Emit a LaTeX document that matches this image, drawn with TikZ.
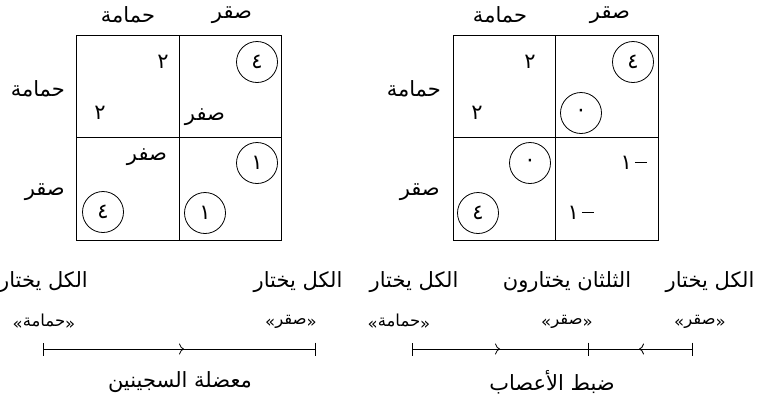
\documentclass[tikz,border=0pt]{standalone}
\usepackage{fontspec}
\usetikzlibrary{arrows.meta}
\TeXXeTstate=1
\newfontfamily\arabicfont[Script=Arabic]{DejaVu Sans}
\newcommand{\artxt}[1]{{\arabicfont\beginR #1\endR}}
\newcommand{\quoted}[1]{{\arabicfont\raisebox{-3pt}{»}\beginR #1\endR\raisebox{-3pt}{«}}}
\newcommand{\negone}{{\arabicfont\mbox{١}\kern3pt\rule[0.3em]{0.6em}{1pt}}}

\begin{document}
\begin{tikzpicture}[x=1pt,y=-1pt,
  lbl/.style={font=\fontsize{21}{24}\selectfont,inner sep=1pt},
  small/.style={font=\fontsize{16.5}{19}\selectfont,inner sep=1pt},
  cell/.style={draw,line width=0.8pt,minimum size=102.5pt,inner sep=0pt},
  ring/.style={lbl,circle,draw,line width=0.8pt,minimum size=41pt,inner sep=0pt},
  bar/.style={line width=0.8pt,{Bar[width=13pt]}-{Bar[width=13pt]}},
  push/.style={line width=0.8pt,-{To[length=5pt,width=11pt]}}]

\useasboundingbox (0,0) rectangle (759,405);

\node[cell] (pdHH) at (128,86.5) {};
\node[cell] (pdHS) at (230.5,86.5) {};
\node[cell] (pdSH) at (128,189) {};
\node[cell] (pdSS) at (230.5,189) {};

\node[lbl] (pdColH) at (128,15) {\artxt{حمامة}};
\node[lbl] (pdColS) at (232,15) {\artxt{صقر}};
\node[lbl,anchor=east] (pdRowH) at (66,89) {\artxt{حمامة}};
\node[lbl,anchor=east] (pdRowS) at (66,192) {\artxt{صقر}};

\node[lbl] (pdA1) at (163,62) {\artxt{٢}};
\node[lbl] (pdA2) at (100,113) {\artxt{٢}};
\node[ring] (pdB1) at (257,62) {\artxt{٤}};
\node[lbl] (pdB2) at (205,117) {\artxt{صفر}};
\node[lbl] (pdC1) at (147,157) {\artxt{صفر}};
\node[ring] (pdC2) at (103,212) {\artxt{٤}};
\node[ring] (pdD1) at (257,163) {\artxt{١}};
\node[ring] (pdD2) at (205,213) {\artxt{١}};

\node[cell] (ckHH) at (504.5,86.5) {};
\node[cell] (ckHS) at (607,86.5) {};
\node[cell] (ckSH) at (504.5,189) {};
\node[cell] (ckSS) at (607,189) {};

\node[lbl] (ckColH) at (500,15) {\artxt{حمامة}};
\node[lbl] (ckColS) at (610,15) {\artxt{صقر}};
\node[lbl,anchor=east] (ckRowH) at (442,89) {\artxt{حمامة}};
\node[lbl,anchor=east] (ckRowS) at (441,192) {\artxt{صقر}};

\node[lbl] (ckA1) at (530,62) {\artxt{٢}};
\node[lbl] (ckA2) at (477,113) {\artxt{٢}};
\node[ring] (ckB1) at (633,62) {\artxt{٤}};
\node[ring] (ckB2) at (581,113) {\artxt{٠}};
\node[ring] (ckC1) at (530,163) {\artxt{٠}};
\node[ring] (ckC2) at (478,213) {\artxt{٤}};
\node[lbl] (ckD1) at (634,163) {\negone};
\node[lbl] (ckD2) at (581,213) {\negone};

\coordinate (pdL) at (43,349);
\coordinate (pdM) at (184,349);
\coordinate (pdR) at (316,349);
\draw[bar] (pdL) -- (pdR);
\draw[push] (pdL) -- (pdM);
\node[lbl,anchor=east] (pdAllH) at (89,282) {\artxt{الكل يختار}};
\node[small] (pdAllHq) at (44,322) {\quoted{حمامة}};
\node[lbl] (pdAllS) at (298,282) {\artxt{الكل يختار}};
\node[small] (pdAllSq) at (291,322) {\quoted{صقر}};
\node[lbl] (pdName) at (180,382) {\artxt{معضلة السجينين}};

\coordinate (ckL) at (412,349);
\coordinate (ckP) at (500,349);
\coordinate (ckM) at (589,349);
\coordinate (ckQ) at (639,349);
\coordinate (ckR) at (693,349);
\draw[bar] (ckL) -- (ckM);
\draw[line width=0.8pt,-{Bar[width=13pt]}] (ckM) -- (ckR);
\draw[push] (ckL) -- (ckP);
\draw[push] (ckR) -- (ckQ);
\node[lbl] (ckAllH) at (414,282) {\artxt{الكل يختار}};
\node[small] (ckAllHq) at (399,322) {\quoted{حمامة}};
\node[lbl] (ckMix) at (567,282) {\artxt{الثلثان يختارون}};
\node[small] (ckMixq) at (567,322) {\quoted{صقر}};
\node[lbl] (ckAllS) at (710,282) {\artxt{الكل يختار}};
\node[small] (ckAllSq) at (700,322) {\quoted{صقر}};
\node[lbl] (ckName) at (552,382) {\artxt{ضبط الأعصاب}};

\end{tikzpicture}
\end{document}
